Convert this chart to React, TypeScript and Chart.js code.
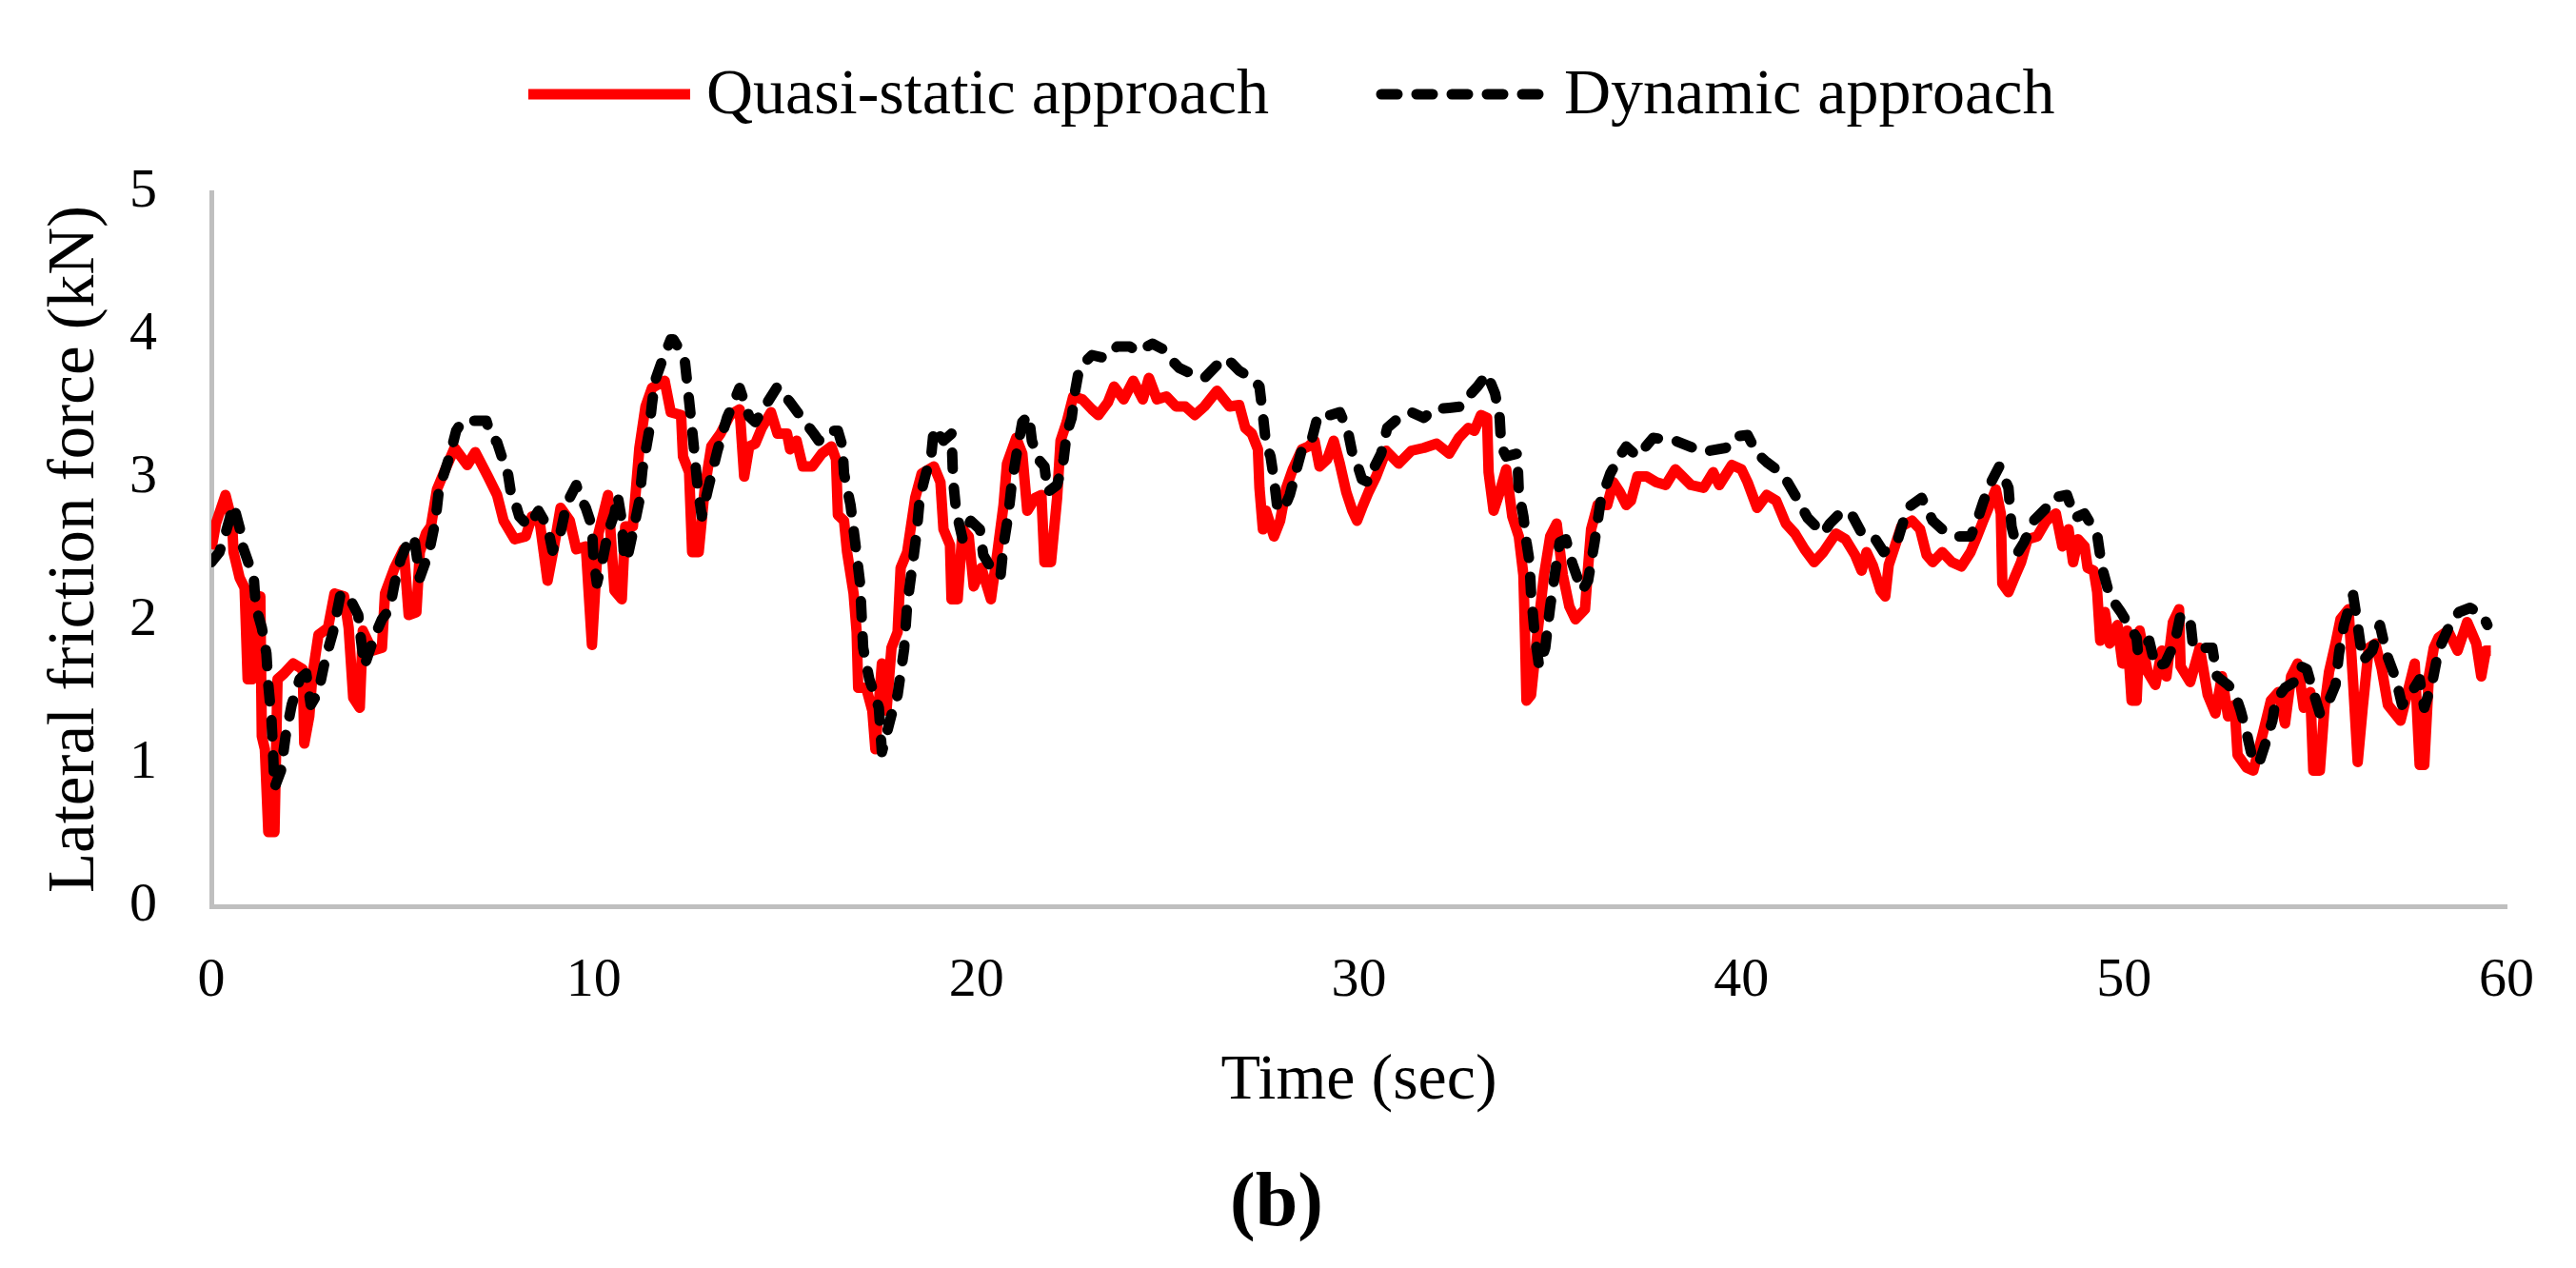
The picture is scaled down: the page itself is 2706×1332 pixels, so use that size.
import React, { useEffect, useRef } from "react";
import { Chart, registerables } from "chart.js";

Chart.register(...registerables);

// [time (sec), lateral friction force (kN)]
const quasiStatic: [number, number][] = [
  [0.0, 2.5], [0.12, 2.68], [0.37, 2.88], [0.54, 2.7], [0.58, 2.48], [0.74, 2.3], [0.87, 2.23], [0.95, 1.59], [1.07, 1.59], [1.16, 2.17],
  [1.28, 2.17], [1.32, 1.19], [1.4, 1.1], [1.49, 0.52], [1.65, 0.52], [1.73, 1.59], [1.9, 1.63], [2.14, 1.7], [2.39, 1.66], [2.43, 1.14],
  [2.56, 1.33], [2.64, 1.61], [2.8, 1.9], [3.05, 1.95], [3.22, 2.19], [3.47, 2.17], [3.59, 1.95], [3.71, 1.46], [3.88, 1.39], [3.96, 1.93],
  [4.21, 1.79], [4.46, 1.81], [4.54, 2.19], [4.79, 2.37], [5.03, 2.5], [5.16, 2.04], [5.36, 2.06], [5.45, 2.48], [5.61, 2.61], [5.74, 2.66],
  [5.9, 2.92], [6.07, 3.03], [6.36, 3.21], [6.69, 3.09], [6.9, 3.18], [7.23, 3.01], [7.47, 2.88], [7.64, 2.7], [7.93, 2.57], [8.22, 2.59],
  [8.38, 2.73], [8.59, 2.68], [8.79, 2.28], [8.96, 2.52], [9.13, 2.79], [9.37, 2.7], [9.54, 2.5], [9.79, 2.52], [9.95, 1.83], [10.12, 2.61],
  [10.37, 2.88], [10.54, 2.21], [10.73, 2.15], [10.82, 2.66], [11.02, 2.66], [11.19, 3.21], [11.35, 3.5], [11.52, 3.63], [11.85, 3.68], [12.01, 3.46],
  [12.28, 3.44], [12.33, 3.15], [12.49, 3.04], [12.57, 2.48], [12.74, 2.48], [12.9, 2.93], [13.07, 3.22], [13.31, 3.31], [13.56, 3.44], [13.81, 3.48],
  [13.93, 3.01], [14.06, 3.22], [14.22, 3.24], [14.39, 3.35], [14.63, 3.46], [14.8, 3.31], [15.05, 3.31], [15.13, 3.2], [15.3, 3.26], [15.46, 3.08],
  [15.71, 3.08], [15.96, 3.17], [16.21, 3.22], [16.33, 3.13], [16.38, 2.74], [16.54, 2.7], [16.62, 2.48], [16.79, 2.19], [16.87, 1.92], [16.91, 1.53],
  [17.12, 1.53], [17.28, 1.37], [17.36, 1.1], [17.53, 1.7], [17.65, 1.37], [17.78, 1.81], [17.94, 1.92], [18.02, 2.37], [18.19, 2.48], [18.4, 2.86],
  [18.57, 3.03], [18.89, 3.08], [19.06, 2.97], [19.14, 2.64], [19.31, 2.53], [19.35, 2.15], [19.51, 2.15], [19.64, 2.64], [19.8, 2.59], [19.93, 2.24],
  [20.13, 2.37], [20.38, 2.15], [20.55, 2.48], [20.71, 2.81], [20.8, 3.1], [21.04, 3.28], [21.2, 3.17], [21.33, 2.77], [21.54, 2.86], [21.7, 2.88],
  [21.78, 2.41], [21.95, 2.41], [22.11, 2.86], [22.2, 3.26], [22.36, 3.39], [22.53, 3.57], [22.77, 3.55], [23.02, 3.48], [23.19, 3.44], [23.44, 3.53],
  [23.6, 3.64], [23.85, 3.55], [24.1, 3.68], [24.35, 3.55], [24.51, 3.7], [24.72, 3.55], [24.97, 3.57], [25.22, 3.5], [25.46, 3.5], [25.71, 3.44],
  [25.96, 3.5], [26.29, 3.61], [26.62, 3.5], [26.87, 3.51], [27.03, 3.35], [27.2, 3.31], [27.36, 3.2], [27.4, 2.93], [27.49, 2.64], [27.57, 2.77],
  [27.78, 2.59], [27.94, 2.7], [28.1, 2.93], [28.27, 3.06], [28.51, 3.2], [28.68, 3.22], [28.84, 3.26], [28.97, 3.08], [29.17, 3.13], [29.34, 3.26],
  [29.5, 3.1], [29.67, 2.9], [29.83, 2.77], [29.95, 2.7], [30.08, 2.79], [30.25, 2.9], [30.45, 3.01], [30.58, 3.1], [30.71, 3.19], [31.04, 3.1],
  [31.37, 3.19], [31.7, 3.21], [32.03, 3.24], [32.36, 3.17], [32.61, 3.28], [32.86, 3.35], [33.02, 3.33], [33.19, 3.44], [33.35, 3.42], [33.39, 3.04],
  [33.52, 2.77], [33.68, 2.9], [33.85, 3.06], [34.01, 2.73], [34.18, 2.59], [34.3, 2.32], [34.34, 1.92], [34.38, 1.44], [34.5, 1.48], [34.67, 1.92],
  [34.84, 2.32], [35.0, 2.59], [35.17, 2.68], [35.33, 2.32], [35.5, 2.1], [35.66, 2.01], [35.91, 2.08], [35.99, 2.37], [36.07, 2.64], [36.24, 2.81],
  [36.49, 2.81], [36.65, 2.97], [36.82, 2.9], [36.99, 2.81], [37.11, 2.84], [37.28, 3.01], [37.52, 3.01], [37.77, 2.97], [38.02, 2.95], [38.27, 3.06],
  [38.68, 2.95], [39.01, 2.93], [39.26, 3.04], [39.42, 2.95], [39.75, 3.09], [40.0, 3.06], [40.16, 2.97], [40.41, 2.79], [40.66, 2.88], [40.91, 2.84],
  [41.16, 2.68], [41.4, 2.61], [41.65, 2.5], [41.9, 2.41], [42.14, 2.48], [42.47, 2.61], [42.72, 2.57], [42.97, 2.46], [43.14, 2.35], [43.27, 2.48],
  [43.43, 2.39], [43.64, 2.21], [43.76, 2.17], [43.85, 2.39], [44.01, 2.52], [44.18, 2.66], [44.46, 2.7], [44.67, 2.64], [44.84, 2.46], [45.0, 2.41],
  [45.25, 2.48], [45.5, 2.41], [45.75, 2.38], [45.99, 2.48], [46.16, 2.59], [46.32, 2.7], [46.49, 2.81], [46.65, 2.92], [46.78, 2.75], [46.82, 2.26],
  [46.98, 2.2], [47.15, 2.31], [47.31, 2.41], [47.48, 2.57], [47.73, 2.59], [47.97, 2.7], [48.22, 2.75], [48.39, 2.52], [48.55, 2.64], [48.67, 2.41],
  [48.8, 2.57], [48.97, 2.52], [49.05, 2.37], [49.21, 2.35], [49.3, 2.2], [49.38, 1.86], [49.5, 2.06], [49.63, 1.84], [49.83, 1.97], [49.96, 1.7],
  [50.08, 1.93], [50.2, 1.44], [50.33, 1.44], [50.41, 1.93], [50.62, 1.64], [50.82, 1.55], [50.99, 1.79], [51.11, 1.61], [51.28, 1.99], [51.44, 2.08],
  [51.48, 1.68], [51.73, 1.57], [51.98, 1.81], [52.19, 1.48], [52.39, 1.35], [52.56, 1.61], [52.72, 1.33], [52.89, 1.41], [52.97, 1.06], [53.21, 0.97],
  [53.38, 0.95], [53.63, 1.21], [53.84, 1.44], [54.04, 1.5], [54.21, 1.28], [54.37, 1.61], [54.54, 1.7], [54.7, 1.39], [54.87, 1.5], [54.95, 0.95],
  [55.12, 0.95], [55.24, 1.39], [55.36, 1.64], [55.53, 1.84], [55.66, 2.01], [55.87, 2.08], [55.99, 1.57], [56.11, 1.01], [56.24, 1.39], [56.4, 1.81],
  [56.57, 1.84], [56.74, 1.66], [56.9, 1.41], [57.23, 1.3], [57.48, 1.57], [57.6, 1.7], [57.73, 0.99], [57.85, 0.99], [57.97, 1.61], [58.1, 1.81],
  [58.22, 1.88], [58.47, 1.93], [58.72, 1.79], [58.97, 1.99], [59.21, 1.84], [59.34, 1.61], [59.46, 1.79], [59.59, 1.79],
];

const dynamic: [number, number][] = [
  [0.0, 2.41], [0.21, 2.48], [0.37, 2.61], [0.58, 2.81], [0.78, 2.61], [0.82, 2.52], [0.99, 2.39], [1.11, 2.3], [1.16, 2.1], [1.32, 1.95],
  [1.44, 1.77], [1.49, 1.55], [1.57, 1.32], [1.61, 1.1], [1.65, 0.83], [1.82, 0.95], [1.94, 1.19], [2.1, 1.41], [2.31, 1.59], [2.48, 1.63],
  [2.6, 1.41], [2.8, 1.5], [2.97, 1.72], [3.18, 1.92], [3.38, 2.19], [3.59, 2.17], [3.84, 2.04], [3.92, 1.85], [4.0, 1.68], [4.25, 1.88],
  [4.46, 2.01], [4.66, 2.08], [4.79, 2.26], [4.95, 2.43], [5.2, 2.59], [5.32, 2.55], [5.45, 2.3], [5.69, 2.48], [5.86, 2.7], [5.95, 2.92],
  [6.24, 3.16], [6.4, 3.33], [6.57, 3.4], [7.19, 3.4], [7.31, 3.29], [7.47, 3.25], [7.64, 3.11], [7.76, 3.02], [7.84, 2.88], [7.93, 2.84],
  [8.05, 2.73], [8.3, 2.66], [8.55, 2.77], [8.79, 2.66], [8.92, 2.49], [9.13, 2.62], [9.29, 2.82], [9.54, 2.95], [9.62, 2.88], [9.79, 2.79],
  [9.95, 2.66], [9.99, 2.44], [10.08, 2.26], [10.24, 2.44], [10.37, 2.62], [10.54, 2.75], [10.62, 2.88], [10.73, 2.7], [10.78, 2.49], [10.86, 2.42],
  [11.02, 2.62], [11.19, 2.84], [11.27, 3.06], [11.44, 3.32], [11.52, 3.52], [11.6, 3.68], [11.77, 3.81], [12.01, 3.97], [12.08, 3.97], [12.37, 3.84],
  [12.45, 3.64], [12.53, 3.44], [12.62, 3.2], [12.7, 2.97], [12.82, 2.73], [12.99, 2.93], [13.23, 3.19], [13.48, 3.42], [13.81, 3.63], [14.06, 3.43],
  [14.22, 3.39], [14.47, 3.5], [14.8, 3.64], [15.13, 3.53], [15.38, 3.44], [15.75, 3.31], [15.88, 3.26], [16.12, 3.33], [16.38, 3.33], [16.5, 3.22],
  [16.54, 3.03], [16.71, 2.81], [16.83, 2.55], [16.96, 2.26], [17.04, 1.81], [17.2, 1.59], [17.45, 1.39], [17.53, 1.08], [17.78, 1.34], [17.94, 1.48],
  [18.02, 1.63], [18.11, 1.8], [18.19, 2.11], [18.32, 2.37], [18.44, 2.62], [18.52, 2.86], [18.69, 3.04], [18.81, 3.13], [18.89, 3.35], [19.14, 3.26],
  [19.35, 3.31], [19.39, 2.99], [19.47, 2.77], [19.64, 2.57], [19.85, 2.7], [20.09, 2.64], [20.18, 2.46], [20.38, 2.37], [20.63, 2.31], [20.71, 2.53],
  [20.84, 2.75], [20.92, 2.95], [21.04, 3.15], [21.2, 3.39], [21.37, 3.44], [21.45, 3.26], [21.62, 3.13], [21.78, 3.08], [21.86, 2.9], [22.11, 2.95],
  [22.28, 3.13], [22.36, 3.31], [22.49, 3.42], [22.57, 3.59], [22.69, 3.77], [23.02, 3.86], [23.35, 3.84], [23.68, 3.92], [24.01, 3.92], [24.22, 3.88],
  [24.46, 3.92], [24.6, 3.94], [24.89, 3.9], [25.05, 3.84], [25.3, 3.77], [25.54, 3.74], [25.96, 3.7], [26.29, 3.79], [26.54, 3.84], [26.87, 3.75],
  [27.2, 3.7], [27.4, 3.64], [27.49, 3.44], [27.57, 3.24], [27.69, 3.15], [27.78, 2.99], [27.86, 2.81], [28.02, 2.77], [28.19, 2.88], [28.35, 3.04],
  [28.51, 3.2], [28.76, 3.26], [28.93, 3.44], [29.26, 3.44], [29.5, 3.46], [29.71, 3.33], [29.83, 3.17], [29.95, 3.1], [30.08, 2.99], [30.25, 2.97],
  [30.41, 3.08], [30.58, 3.17], [30.74, 3.35], [31.04, 3.42], [31.37, 3.46], [31.7, 3.42], [31.95, 3.48], [32.36, 3.49], [32.69, 3.5], [32.86, 3.57],
  [33.1, 3.64], [33.35, 3.73], [33.56, 3.59], [33.68, 3.42], [33.72, 3.22], [33.85, 3.15], [34.14, 3.17], [34.18, 2.9], [34.3, 2.73], [34.38, 2.55],
  [34.46, 2.41], [34.5, 2.19], [34.59, 1.92], [34.71, 1.68], [34.87, 1.81], [35.0, 2.1], [35.12, 2.32], [35.25, 2.55], [35.41, 2.57], [35.58, 2.4],
  [35.83, 2.21], [35.99, 2.28], [36.16, 2.55], [36.32, 2.84], [36.57, 3.03], [36.86, 3.17], [36.99, 3.22], [37.28, 3.15], [37.69, 3.28], [38.27, 3.26],
  [38.92, 3.19], [39.17, 3.19], [39.59, 3.21], [39.84, 3.29], [40.16, 3.3], [40.41, 3.17], [40.66, 3.11], [40.91, 3.06], [41.16, 2.99], [41.4, 2.88],
  [41.73, 2.72], [42.14, 2.61], [42.31, 2.68], [42.64, 2.77], [42.89, 2.74], [43.13, 2.62], [43.43, 2.6], [43.72, 2.48], [44.09, 2.57], [44.34, 2.79],
  [44.71, 2.86], [45.0, 2.7], [45.25, 2.64], [45.66, 2.59], [45.99, 2.59], [46.16, 2.7], [46.32, 2.83], [46.49, 2.95], [46.74, 3.08], [46.98, 2.93],
  [47.06, 2.66], [47.23, 2.48], [47.39, 2.55], [47.64, 2.7], [47.97, 2.79], [48.14, 2.86], [48.51, 2.88], [48.72, 2.72], [48.97, 2.75], [49.3, 2.6],
  [49.42, 2.38], [49.5, 2.3], [49.63, 2.17], [49.92, 2.06], [50.12, 1.97], [50.33, 1.88], [50.37, 1.77], [50.66, 1.86], [50.82, 1.68], [51.07, 1.7],
  [51.32, 1.84], [51.48, 2.04], [51.73, 2.01], [51.81, 1.81], [52.31, 1.81], [52.43, 1.61], [52.72, 1.55], [52.89, 1.5], [53.05, 1.37], [53.21, 1.21],
  [53.38, 1.01], [53.54, 1.01], [53.71, 1.15], [53.88, 1.3], [53.96, 1.44], [54.21, 1.53], [54.45, 1.57], [54.62, 1.68], [54.78, 1.66], [54.95, 1.5],
  [55.12, 1.35], [55.36, 1.44], [55.53, 1.55], [55.62, 1.77], [55.75, 1.97], [55.99, 2.18], [56.11, 1.97], [56.24, 1.72], [56.49, 1.79], [56.69, 1.97],
  [56.86, 1.77], [57.11, 1.59], [57.27, 1.41], [57.52, 1.5], [57.73, 1.59], [57.85, 1.39], [58.06, 1.57], [58.22, 1.79], [58.55, 1.99], [58.76, 2.06],
  [59.05, 2.09], [59.38, 2.04], [59.5, 1.97],
];

const seriesNames = ["Quasi-static approach", "Dynamic approach"];
const xTitle = "Time (sec)";
const yTitle = "Lateral friction force (kN)";
const panelLabel = "(b)";
const xRange = [0, 60];
const yRange = [0, 5];

const FONT = "'Liberation Serif', 'Times New Roman', serif";

export default function App() {
  const ref = useRef<HTMLCanvasElement>(null);

  useEffect(() => {
    const canvas = ref.current;
    if (!canvas) return;

    const overlay = {
      id: "overlay",
      afterDraw(chart: any) {
        const ctx = chart.ctx;
        const ds = chart.data.datasets;
        ctx.save();
        // legend
        const ly = 99;
        const items = [
          { x0: 555, x1: 725, tx: 742, d: ds[1] },
          { x0: 1451, x1: 1626, tx: 1643, d: ds[0] },
        ];
        items.forEach((it, i) => {
          ctx.beginPath();
          ctx.strokeStyle = it.d.borderColor;
          ctx.lineWidth = it.d.borderWidth;
          ctx.setLineDash(it.d.borderDash || []);
          ctx.lineCap = it.d.borderDash ? "round" : "butt";
          ctx.moveTo(it.x0, ly);
          ctx.lineTo(it.x1, ly);
          ctx.stroke();
          ctx.setLineDash([]);
          ctx.fillStyle = "#000";
          ctx.font = `68px ${FONT}`;
          ctx.textAlign = "left";
          ctx.textBaseline = "middle";
          ctx.fillText(seriesNames[i], it.tx, ly + 2);
        });
        // panel label
        ctx.font = `bold 80px ${FONT}`;
        ctx.textAlign = "center";
        ctx.textBaseline = "middle";
        ctx.fillText(panelLabel, 1341, 1266);
        ctx.restore();
      },
    };

    const chart = new Chart(canvas, {
      type: "line",
      data: {
        datasets: [
          {
            label: seriesNames[1],
            data: dynamic.map(([x, y]) => ({ x, y })),
            borderColor: "#000000",
            backgroundColor: "#000000",
            borderWidth: 11,
            borderDash: [17, 20],
            borderCapStyle: "round",
            borderJoinStyle: "round",
            pointRadius: 0,
            tension: 0,
            order: 0,
          },
          {
            label: seriesNames[0],
            data: quasiStatic.map(([x, y]) => ({ x, y })),
            borderColor: "#FF0000",
            backgroundColor: "#FF0000",
            borderWidth: 11,
            borderCapStyle: "butt",
            borderJoinStyle: "round",
            pointRadius: 0,
            tension: 0,
            order: 1,
          },
        ],
      },
      options: {
        responsive: false,
        animation: false,
        devicePixelRatio: 1,
        layout: { padding: { left: 0, right: 60, top: 202, bottom: 140 } },
        plugins: {
          legend: { display: false },
          tooltip: { enabled: false },
        },
        scales: {
          x: {
            type: "linear",
            min: xRange[0],
            max: xRange[1],
            grid: { display: false, drawTicks: false },
            border: { display: true, color: "#BFBFBF", width: 5 },
            ticks: {
              stepSize: 10,
              padding: 44,
              color: "#000",
              font: { family: FONT, size: 58 },
              maxRotation: 0,
            },
            title: {
              display: true,
              text: xTitle,
              color: "#000",
              font: { family: FONT, size: 68 },
              padding: { top: 0, bottom: 15 },
            },
            afterFit(scale: any) {
              scale.height = 240;
            },
          },
          y: {
            type: "linear",
            min: yRange[0],
            max: yRange[1],
            grid: { display: false, drawTicks: false },
            border: { display: true, color: "#BFBFBF", width: 5 },
            ticks: {
              stepSize: 1,
              padding: 57,
              color: "#000",
              font: { family: FONT, size: 58 },
            },
            title: {
              display: true,
              text: yTitle,
              color: "#000",
              font: { family: FONT, size: 69 },
              padding: { top: 38, bottom: 0 },
            },
            afterFit(scale: any) {
              scale.width = 222;
            },
          },
        },
      },
      plugins: [overlay],
    } as any);

    return () => chart.destroy();
  }, []);

  return (
    <div style={{ position: "absolute", left: 0, top: 0, width: 2706, height: 1332, background: "#fff" }}>
      <canvas ref={ref} width={2706} height={1332} style={{ display: "block" }} />
    </div>
  );
}
